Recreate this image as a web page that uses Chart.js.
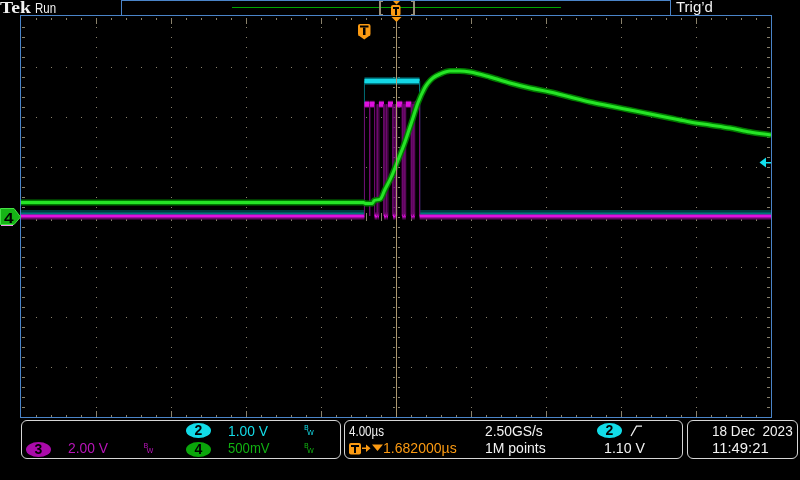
<!DOCTYPE html>
<html>
<head>
<meta charset="utf-8">
<title>Tek scope capture</title>
<script src="https://cdn.jsdelivr.net/npm/chart.js@4.4.1/dist/chart.umd.min.js"></script>
<style>
  html, body { margin:0; padding:0; background:#000; }
  #wrap { position:relative; width:800px; height:480px; overflow:hidden; background:#000; }
  #scope { position:absolute; left:0; top:0; }
  .t { position:absolute; white-space:pre; font-family:"Liberation Sans", Arial, sans-serif; font-size:14px; line-height:14px; transform-origin:0 0; }
  .panel { position:absolute; box-sizing:border-box; border:1px solid #d6d6d6; border-radius:6px; }
  .badge { position:absolute; border-radius:50%; color:#000; font-family:"Liberation Sans", Arial, sans-serif; font-weight:bold; font-size:14px; text-align:center; }
  .bw { position:absolute; font-family:"DejaVu Sans", sans-serif; font-size:7px; line-height:7px; }
</style>
</head>
<body>
<div id="wrap">
  <canvas id="scope" width="800" height="480"></canvas>
</div>
<script>
// ---------- acquisition settings (from the on-screen readouts) ----------
const timePerDiv      = 4.0;    // µs per division
const triggerDelay    = 1.682;  // µs : screen centre relative to trigger
const hDivs = 10, vDivs = 8, subDivs = 5;
const ch2VoltsPerDiv  = 1.00;
const ch3VoltsPerDiv  = 2.00;
const ch4VoltsPerDiv  = 0.50;
const ch2TriggerLevel = 1.10;   // V

// ---------- channel 2 (cyan): gate pulse ----------
const ch2Edges = [0.00, 2.94];          // µs
const ch2Low   = 0.07;                  // V
const ch2High  = 2.72;                  // V

// ---------- channel 3 (magenta): pulse burst (incl. short glitches) ----------
const ch3Edges = [0.00, 0.27, 0.29, 0.54, 0.67, 0.69, 0.77, 1.04, 1.15, 1.17, 1.25, 1.52,
                  1.63, 1.65, 1.73, 2.02, 2.10, 2.12, 2.20, 2.50, 2.58, 2.60, 2.68, 2.94]; // µs
const ch3Low   = 0.04;                  // V
const ch3High  = 4.51;                  // V

// ---------- channel 4 (green): analog response ----------
const ch4Time  = [-18.32, -0.05, 0.05, 0.42, 0.52, 0.85, 1.08, 1.43, 1.79, 2.14, 2.50, 2.85,
                  3.21, 3.39, 3.65, 4.03, 4.56, 5.09, 5.63, 6.69, 7.76, 8.83, 9.89, 10.96,
                  12.03, 13.09, 14.16, 15.23, 16.29, 17.36, 18.43, 19.49, 20.56, 21.68];
const ch4Volts = [0.145, 0.145, 0.135, 0.135, 0.165, 0.18, 0.27, 0.40, 0.57, 0.74, 0.94, 1.14,
                  1.29, 1.34, 1.39, 1.43, 1.46, 1.46, 1.45, 1.40, 1.34, 1.29, 1.25, 1.20,
                  1.15, 1.11, 1.07, 1.03, 0.99, 0.95, 0.92, 0.89, 0.85, 0.82];

// ---------- derived ranges ----------
const xMin = triggerDelay - hDivs / 2 * timePerDiv;
const xMax = triggerDelay + hDivs / 2 * timePerDiv;

function pulseTrain(edges, low, high) {
  const pts = [{ x: xMin, y: low }];
  let level = low;
  edges.forEach(e => {
    pts.push({ x: e, y: level });
    level = (level === low) ? high : low;
    pts.push({ x: e, y: level });
  });
  pts.push({ x: xMax, y: level });
  return pts;
}
const curve = (t, v) => t.map((x, i) => ({ x, y: v[i] }));

const FRAME = 'rgb(74,132,200)';
const DOT   = 'rgb(138,130,108)';
const ORANGE = '#fb9a12';
const isEdge = c => c.p0.parsed.x === c.p1.parsed.x;

// ---------- graticule (drawn through the scales) ----------
const graticule = {
  id: 'graticule',
  beforeDatasetsDraw(chart) {
    const { ctx, chartArea: a, scales } = chart;
    const X = v => Math.round(scales.x.getPixelForValue(v));
    const Y = v => Math.round(scales.ydiv.getPixelForValue(v));
    ctx.save();
    ctx.fillStyle = DOT;
    for (let i = 1; i < hDivs; i++) {
      const px = X(xMin + i * timePerDiv);
      for (let k = 1; k < vDivs * subDivs; k++) {
        const py = Y(-vDivs / 2 + k / subDivs);
        if (i === hDivs / 2) { ctx.fillRect(px - 3, py, 2, 1); ctx.fillRect(px + 2, py, 2, 1); }
        else ctx.fillRect(px, py, 1, 1);
      }
    }
    for (let j = 1; j < vDivs; j++) {
      const py = Y(-vDivs / 2 + j);
      for (let k = 1; k < hDivs * subDivs; k++) {
        const px = X(xMin + k * timePerDiv / subDivs);
        if (j === vDivs / 2) ctx.fillRect(px, py - 4, 1, 8);
        else ctx.fillRect(px, py, 1, 1);
      }
    }
    for (let k = 1; k < hDivs * subDivs; k++) {
      const px = X(xMin + k * timePerDiv / subDivs);
      const len = (k % subDivs === 0) ? 6 : 2;
      ctx.fillRect(px, a.top + 1, 1, len);
      ctx.fillRect(px, a.bottom - len, 1, len);
    }
    for (let k = 1; k < vDivs * subDivs; k++) {
      const py = Y(-vDivs / 2 + k / subDivs);
      ctx.fillRect(a.left + 1, py, 3, 1);
      ctx.fillRect(a.right - 4, py, 3, 1);
    }
    ctx.restore();
  }
};

// ---------- instrument chrome ----------
const chrome = {
  id: 'chrome',
  afterDraw(chart) {
    const { ctx, chartArea: a, scales } = chart;
    const xs = scales.x;
    ctx.save();
    // frame
    ctx.fillStyle = FRAME;
    ctx.fillRect(a.left - 1, a.top - 2, a.right - a.left + 2, 1);
    ctx.fillRect(a.left - 1, a.bottom, a.right - a.left + 2, 1);
    ctx.fillRect(a.left - 1, a.top - 2, 1, a.bottom - a.top + 3);
    ctx.fillRect(a.right, a.top - 2, 1, a.bottom - a.top + 3);
    // record view box
    ctx.strokeStyle = FRAME; ctx.lineWidth = 1;
    ctx.strokeRect(121.5, 0.5, 549, 15);
    ctx.fillStyle = 'rgb(0,165,0)';
    ctx.fillRect(232, 7, 329, 1);
    ctx.fillStyle = 'rgb(152,142,120)';
    ctx.fillRect(379, 1, 2, 14); ctx.fillRect(379, 1, 4, 1); ctx.fillRect(379, 14, 4, 1);
    ctx.fillRect(413, 1, 2, 14); ctx.fillRect(411, 1, 4, 1); ctx.fillRect(411, 14, 4, 1);

    // centre (expansion point) line
    const cx = Math.round(xs.getPixelForValue(triggerDelay));
    ctx.fillStyle = 'rgb(172,152,112)';
    ctx.fillRect(cx, 22, 1, a.bottom - 22);

    // expansion marker in record box
    ctx.fillStyle = ORANGE;
    ctx.beginPath(); ctx.moveTo(cx - 3, 1); ctx.lineTo(cx + 4, 1); ctx.lineTo(cx + 0.5, 4.5); ctx.closePath(); ctx.fill();
    ctx.beginPath(); ctx.roundRect(cx - 5, 5, 9.5, 11, 2); ctx.fill();
    ctx.beginPath(); ctx.moveTo(cx - 4.5, 17); ctx.lineTo(cx + 5.5, 17); ctx.lineTo(cx + 0.5, 22); ctx.closePath(); ctx.fill();
    ctx.fillStyle = '#000';
    ctx.fillRect(cx - 3, 7, 6, 2); ctx.fillRect(cx - 1, 9, 2, 6);

    // trigger position marker
    const tx = Math.floor(xs.getPixelForValue(0));
    ctx.fillStyle = ORANGE;
    ctx.beginPath(); ctx.roundRect(tx - 6, 24, 12.5, 12, 2); ctx.fill();
    ctx.beginPath(); ctx.moveTo(tx - 6, 35); ctx.lineTo(tx + 6.5, 35); ctx.lineTo(tx + 0.25, 39.5); ctx.closePath(); ctx.fill();
    ctx.fillStyle = '#000';
    ctx.fillRect(tx - 4, 25.5, 8.5, 2); ctx.fillRect(tx - 1, 27.5, 2.5, 7.5);

    // channel 4 ground marker (and ch3 marker peeking underneath)
    const gy = Math.round(scales.y4.getPixelForValue(0));
    ctx.fillStyle = 'rgb(236,150,236)';
    ctx.fillRect(1, gy + 8, 12, 1);
    ctx.beginPath();
    ctx.moveTo(0.5, gy - 8.5); ctx.lineTo(14, gy - 8.5); ctx.lineTo(20.5, gy); ctx.lineTo(14, gy + 7.5); ctx.lineTo(0.5, gy + 7.5); ctx.closePath();
    ctx.fillStyle = '#16b416'; ctx.fill();
    ctx.strokeStyle = 'rgb(70,225,70)'; ctx.lineWidth = 1; ctx.stroke();

    // ch2 trigger level arrow
    const ly = Math.round(scales.y2.getPixelForValue(ch2TriggerLevel));
    ctx.fillStyle = '#12e0ee';
    ctx.beginPath(); ctx.moveTo(759.5, ly + 0.5); ctx.lineTo(766, ly - 4.5); ctx.lineTo(766, ly + 5.5); ctx.closePath(); ctx.fill();
    ctx.fillRect(766, ly, 5, 1.5);

    // bottom panel icons
    ctx.fillStyle = ORANGE;
    ctx.beginPath(); ctx.roundRect(349, 443, 12, 11.5, 2); ctx.fill();
    ctx.fillStyle = '#000';
    ctx.fillRect(351, 445, 8, 2); ctx.fillRect(354, 447, 2, 6);
    ctx.fillStyle = ORANGE;
    ctx.fillRect(362, 447.5, 5, 1.5);
    ctx.beginPath(); ctx.moveTo(366, 444.5); ctx.lineTo(370.5, 448.2); ctx.lineTo(366, 452); ctx.closePath(); ctx.fill();
    ctx.beginPath(); ctx.moveTo(372, 444.5); ctx.lineTo(383, 444.5); ctx.lineTo(377.5, 451); ctx.closePath(); ctx.fill();
    ctx.strokeStyle = '#f0f0f0'; ctx.lineWidth = 1.3;
    ctx.beginPath(); ctx.moveTo(631, 436); ctx.lineTo(636.5, 426.2); ctx.lineTo(642, 426.2); ctx.stroke();
    ctx.restore();
  }
};

const ctx = document.getElementById('scope').getContext('2d');
const chart = new Chart(ctx, {
  type: 'line',
  data: {
    datasets: [
      { label: 'CH4', data: curve(ch4Time, ch4Volts), yAxisID: 'y4', borderColor: '#26e426', borderWidth: 3,
        cubicInterpolationMode: 'monotone', order: 1 },
      { label: 'CH4 glow', data: curve(ch4Time, ch4Volts), yAxisID: 'y4', borderColor: 'rgb(0,120,0)', borderWidth: 6,
        cubicInterpolationMode: 'monotone', order: 2 },
      { label: 'CH3', data: pulseTrain(ch3Edges, ch3Low, ch3High), yAxisID: 'y3', borderColor: '#e010e0', borderWidth: 3,
        segment: { borderColor: c => isEdge(c) ? 'rgb(110,10,110)' : undefined,
                   borderWidth: c => isEdge(c) ? 1 : (c.p0.parsed.y > 1 ? 5 : undefined) }, order: 3 },
      { label: 'CH2', data: pulseTrain(ch2Edges, ch2Low, ch2High), yAxisID: 'y2', borderColor: '#14d8e6', borderWidth: 4,
        segment: { borderColor: c => isEdge(c) ? 'rgba(0,120,130,0.9)' : (c.p0.parsed.y < 1 ? 'rgb(0,118,124)' : undefined),
                   borderWidth: c => isEdge(c) ? 1 : (c.p0.parsed.y < 1 ? 2 : undefined) }, order: 4 },
      { label: 'CH2 glow', data: pulseTrain(ch2Edges, ch2Low, ch2High), yAxisID: 'y2', borderColor: 'rgb(0,128,138)', borderWidth: 7,
        segment: { borderColor: c => isEdge(c) ? 'rgba(0,0,0,0)' : (c.p0.parsed.y < 1 ? 'rgb(0,60,64)' : undefined) }, order: 5 },
      { label: 'CH3 glow', data: pulseTrain(ch3Edges, ch3Low, ch3High), yAxisID: 'y3', borderColor: 'rgb(100,8,100)', borderWidth: 7,
        segment: { borderColor: c => isEdge(c) ? 'rgba(0,0,0,0)' : undefined }, order: 6 }
    ]
  },
  options: {
    responsive: false,
    animation: false,
    events: [],
    layout: { padding: { left: 21, top: 17, right: 29, bottom: 63 } },
    elements: { point: { radius: 0 }, line: { tension: 0, borderCapStyle: 'butt' } },
    plugins: { legend: { display: false }, tooltip: { enabled: false } },
    scales: {
      x:    { type: 'linear', min: xMin, max: xMax, display: false },
      ydiv: { type: 'linear', min: -vDivs / 2, max: vDivs / 2, display: false },
      y2:   { type: 'linear', min: -vDivs / 2 * ch2VoltsPerDiv, max: vDivs / 2 * ch2VoltsPerDiv, display: false },
      y3:   { type: 'linear', min: -vDivs / 2 * ch3VoltsPerDiv, max: vDivs / 2 * ch3VoltsPerDiv, display: false },
      y4:   { type: 'linear', min: -vDivs / 2 * ch4VoltsPerDiv, max: vDivs / 2 * ch4VoltsPerDiv, display: false }
    }
  },
  plugins: [graticule, chrome]
});

// ---------- text overlays ----------
const wrap = document.getElementById('wrap');
function addText(str, x, capTop, color, width, opts = {}) {
  const size = opts.size || 14;
  const d = document.createElement('div');
  d.className = 't';
  d.textContent = str;
  d.style.color = color;
  d.style.fontSize = size + 'px';
  d.style.lineHeight = size + 'px';
  if (opts.family) d.style.fontFamily = opts.family;
  if (opts.weight) d.style.fontWeight = opts.weight;
  const capOff = (opts.capOff !== undefined ? opts.capOff : 0.1304) * size;
  d.style.left = x + 'px';
  d.style.top = (capTop - capOff) + 'px';
  wrap.appendChild(d);
  if (width) {
    const w = d.getBoundingClientRect().width;
    d.style.transform = 'scaleX(' + (width / w).toFixed(3) + ')';
  }
  return d;
}
function addPanel(x, y, w, h) {
  const d = document.createElement('div');
  d.className = 'panel';
  Object.assign(d.style, { left: x + 'px', top: y + 'px', width: w + 'px', height: h + 'px' });
  wrap.appendChild(d);
}
function addBadge(num, x, y, w, h, bg) {
  const d = document.createElement('div');
  d.className = 'badge';
  d.textContent = num;
  Object.assign(d.style, { left: x + 'px', top: y + 'px', width: w + 'px', height: h + 'px', lineHeight: h + 'px', background: bg });
  wrap.appendChild(d);
}
function addBW(x, capTop, color) {
  const b = document.createElement('div'); b.className = 'bw'; b.textContent = 'B';
  Object.assign(b.style, { left: x + 'px', top: (capTop - 0.8) + 'px', color });
  const w = document.createElement('div'); w.className = 'bw'; w.textContent = 'W';
  Object.assign(w.style, { left: (x + 3) + 'px', top: (capTop + 4.2) + 'px', color });
  wrap.appendChild(b); wrap.appendChild(w);
}

const WHITE = '#f2f2f2', CYAN = '#14dce8', MAGENTA = '#b814b8', GREEN = '#10b010';

// top bar
addText('Tek', 0, 2, WHITE, 31, { size: 17, family: '"Liberation Serif", serif', weight: 'bold', capOff: 0.1755 });
addText('Run', 35, 3.3, WHITE, 21);
addText('Trig\u2019d', 676, 2, WHITE, 37);

// bottom panels
addPanel(21, 420, 320, 39);
addPanel(344, 420, 339, 39);
addPanel(687, 420, 111, 39);

addBadge('2', 186, 423, 25, 15, '#12dce8');
addText('1.00 V', 228, 425.7, CYAN, 40);
addBW(304, 425.7, CYAN);
addBadge('3', 26, 441.5, 25, 15, '#aa0aaa');
addText('2.00 V', 67.7, 443.3, MAGENTA, 40);
addBW(143.5, 443.3, MAGENTA);
addBadge('4', 186, 441.5, 25, 15, '#0aa60a');
addText('500mV', 227.7, 443.3, GREEN, 41.6);
addBW(304, 443.3, GREEN);

addText('4.00\u00b5s', 349.3, 425.7, WHITE, 35);
addText('1.682000\u00b5s', 383, 443.3, ORANGE, 73.7);
addText('2.50GS/s', 485, 425.7, WHITE, 57.7);
addText('1M points', 485, 443.3, WHITE, 60.7);
addBadge('2', 597, 423, 25, 15, '#12dce8');
addText('1.10 V', 604, 443.3, WHITE, 41);
addText('18 Dec  2023', 711.7, 425.7, WHITE, 80.7);
addText('11:49:21', 711.7, 443.3, WHITE, 56.7);

// channel 4 ground marker label, placed through the channel's scale
const g4 = chart.scales.y4.getPixelForValue(0);
addText('4', 4, g4 - 5.5, '#000', 9.5, { size: 15, weight: 'bold' });
</script>
</body>
</html>
